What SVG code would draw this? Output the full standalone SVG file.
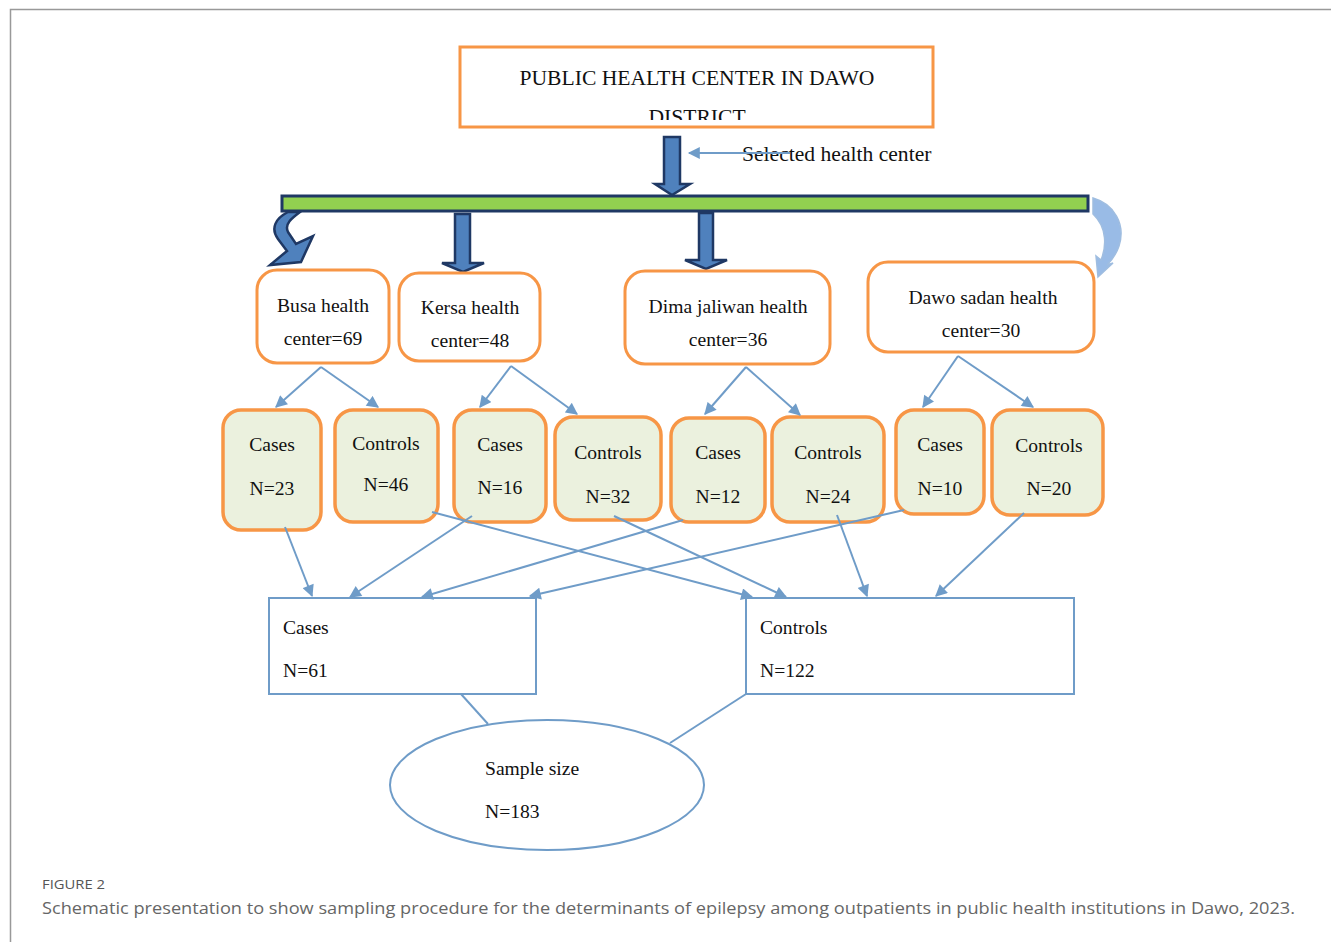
<svg xmlns="http://www.w3.org/2000/svg" width="1331" height="942" viewBox="0 0 1331 942">
<style>
.t{font-family:"Liberation Serif","Times New Roman",serif;font-size:19.6px;fill:#111;text-anchor:middle}
.tl{font-family:"Liberation Serif","Times New Roman",serif;font-size:19.6px;fill:#111}
.big{font-size:21.6px}
.hc{fill:#fff;stroke:#f79646;stroke-width:3}
.sb{fill:#ebf1de;stroke:#f79646;stroke-width:3.5}
.bb{fill:#fff;stroke:#6f9cc8;stroke-width:2}
.ln{fill:none;stroke:#6f9cc8;stroke-width:2}
.ba{fill:#4f81bd;stroke:#1f3864;stroke-width:2.5;stroke-linejoin:miter}
</style>
<defs>
<marker id="ah2" viewBox="0 0 10 10" refX="9" refY="5" markerWidth="13" markerHeight="12" markerUnits="userSpaceOnUse" orient="auto">
<path d="M0,0 L10,5 L0,10 z" fill="#6f9cc8"/>
</marker>
<clipPath id="titleclip"><rect x="460" y="46" width="473" height="74"/></clipPath>
</defs>
<rect x="0" y="0" width="1331" height="942" fill="#fff"/>
<path d="M10.5,942 V9.5 H1331" fill="none" stroke="#999" stroke-width="1.5"/>

<g id="title">
<rect x="460" y="47" width="473" height="80" fill="#fff" stroke="#f79646" stroke-width="3"/>
<g clip-path="url(#titleclip)">
<text class="t big" x="697" y="85">PUBLIC HEALTH CENTER IN DAWO</text>
<text class="t big" x="697" y="124">DISTRICT</text>
</g>
</g>

<g id="selected-label">
<text class="tl big" x="742" y="161">Selected health center</text>
</g>

<g id="bar">
<rect x="282" y="196" width="806" height="15" fill="#92d050" stroke="#1f3864" stroke-width="3"/>
</g>

<g id="block-arrows">
<path class="ba" d="M664,137 H680 V184 H690 L672,195 L655,184 H664 Z"/>
<path class="ba" d="M455,214 H470 V263 H484 L463,272 L442,263 H455 Z"/>
<path class="ba" d="M699,213 H713 V260 H727 L706,269 L685,260 H699 Z"/>
<path class="ba" d="M288,212 L300,212 C292,218 284,224 288,232 L296,244 L313,236 L301,262 L270,265 L287,251 L278,239 C270,228 276,218 288,212 Z"/>
<path d="M1093,198 C1114,204 1126,224 1119,246 C1116,255 1111,261 1107,265 L1113,263 L1098,277 L1096,256 L1101,260 C1106,248 1108,228 1093,214 Z" fill="#8eb4e3" fill-opacity="0.9" stroke="#9fbde0" stroke-width="1.5"/>
</g>

<g id="busa"><rect class="hc" x="257" y="270" width="132" height="93" rx="20"/>
<text class="t" x="323" y="312">Busa health</text><text class="t" x="323" y="345">center=69</text></g>
<g id="kersa"><rect class="hc" x="399" y="273" width="141" height="88" rx="20"/>
<text class="t" x="470" y="314">Kersa health</text><text class="t" x="470" y="347">center=48</text></g>
<g id="dima"><rect class="hc" x="625" y="271" width="205" height="93" rx="20"/>
<text class="t" x="728" y="313">Dima jaliwan health</text><text class="t" x="728" y="346">center=36</text></g>
<g id="dawo"><rect class="hc" x="868" y="262" width="226" height="90" rx="20"/>
<text class="t" x="983" y="304">Dawo sadan health</text><text class="t" x="981" y="337">center=30</text></g>

<g id="cases23"><rect class="sb" x="223" y="410" width="98" height="120" rx="18"/>
<text class="t" x="272" y="451">Cases</text><text class="t" x="272" y="495">N=23</text></g>
<g id="controls46"><rect class="sb" x="335" y="410" width="103" height="112" rx="18"/>
<text class="t" x="386" y="450">Controls</text><text class="t" x="386" y="491">N=46</text></g>
<g id="cases16"><rect class="sb" x="454" y="410" width="92" height="112" rx="18"/>
<text class="t" x="500" y="451">Cases</text><text class="t" x="500" y="494">N=16</text></g>
<g id="controls32"><rect class="sb" x="555" y="417" width="106" height="103" rx="18"/>
<text class="t" x="608" y="459">Controls</text><text class="t" x="608" y="503">N=32</text></g>
<g id="cases12"><rect class="sb" x="671" y="418" width="94" height="104" rx="18"/>
<text class="t" x="718" y="459">Cases</text><text class="t" x="718" y="503">N=12</text></g>
<g id="controls24"><rect class="sb" x="772" y="417" width="112" height="105" rx="18"/>
<text class="t" x="828" y="459">Controls</text><text class="t" x="828" y="503">N=24</text></g>
<g id="cases10"><rect class="sb" x="896" y="410" width="88" height="104" rx="18"/>
<text class="t" x="940" y="451">Cases</text><text class="t" x="940" y="495">N=10</text></g>
<g id="controls20"><rect class="sb" x="992" y="410" width="111" height="105" rx="18"/>
<text class="t" x="1049" y="452">Controls</text><text class="t" x="1049" y="495">N=20</text></g>

<g id="cases-total"><rect class="bb" x="269" y="598" width="267" height="96"/>
<text class="tl" x="283" y="634">Cases</text><text class="tl" x="283" y="677">N=61</text></g>
<g id="controls-total"><rect class="bb" x="746" y="598" width="328" height="96"/>
<text class="tl" x="760" y="634">Controls</text><text class="tl" x="760" y="677">N=122</text></g>

<g id="sample"><ellipse cx="547" cy="785" rx="157" ry="65" fill="#fff" stroke="#6f9cc8" stroke-width="2"/>
<text class="tl" x="485" y="775">Sample size</text><text class="tl" x="485" y="818">N=183</text></g>

<g id="connectors">
<line class="ln" x1="790" y1="153" x2="689" y2="153" marker-end="url(#ah2)"/>
<line class="ln" x1="321" y1="367" x2="276" y2="407" marker-end="url(#ah2)"/>
<line class="ln" x1="321" y1="367" x2="378" y2="407" marker-end="url(#ah2)"/>
<line class="ln" x1="511" y1="366" x2="480" y2="407" marker-end="url(#ah2)"/>
<line class="ln" x1="511" y1="366" x2="577" y2="414" marker-end="url(#ah2)"/>
<line class="ln" x1="746" y1="367" x2="705" y2="414" marker-end="url(#ah2)"/>
<line class="ln" x1="746" y1="367" x2="800" y2="415" marker-end="url(#ah2)"/>
<line class="ln" x1="958" y1="356" x2="923" y2="407" marker-end="url(#ah2)"/>
<line class="ln" x1="958" y1="356" x2="1033" y2="407" marker-end="url(#ah2)"/>
<line class="ln" x1="285" y1="527" x2="312" y2="596" marker-end="url(#ah2)"/>
<line class="ln" x1="472" y1="516" x2="350" y2="597" marker-end="url(#ah2)"/>
<line class="ln" x1="683" y1="520" x2="422" y2="597" marker-end="url(#ah2)"/>
<line class="ln" x1="904" y1="510" x2="530" y2="596" marker-end="url(#ah2)"/>
<line class="ln" x1="432" y1="512" x2="752" y2="597" marker-end="url(#ah2)"/>
<line class="ln" x1="614" y1="516" x2="786" y2="597" marker-end="url(#ah2)"/>
<line class="ln" x1="837" y1="515" x2="867" y2="596" marker-end="url(#ah2)"/>
<line class="ln" x1="1024" y1="513" x2="936" y2="596" marker-end="url(#ah2)"/>
<line class="ln" x1="461" y1="694" x2="488" y2="724"/>
<line class="ln" x1="746" y1="694" x2="670" y2="743"/>
</g>

<g id="caption">
<text x="42" y="889" font-family="'Open Sans','Noto Sans',sans-serif" font-size="13" fill="#555" textLength="63" lengthAdjust="spacingAndGlyphs">FIGURE 2</text>
<text x="42" y="914" font-family="'Open Sans','Noto Sans',sans-serif" font-size="17" fill="#666" textLength="1253" lengthAdjust="spacingAndGlyphs">Schematic presentation to show sampling procedure for the determinants of epilepsy among outpatients in public health institutions in Dawo, 2023.</text>
</g>
</svg>
